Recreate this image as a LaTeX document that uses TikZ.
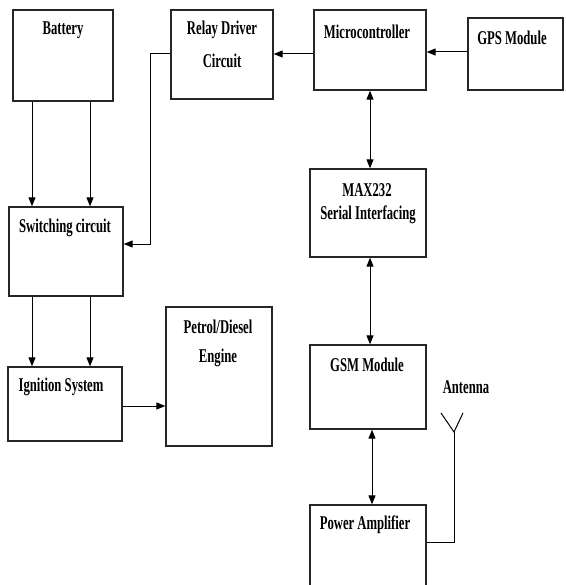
\documentclass[tikz,border=0pt]{standalone}
\usepackage{fontspec}
\setmainfont{Liberation Serif}
\usepackage{graphicx}
\usetikzlibrary{arrows.meta}
\newcommand{\sq}[1]{\scalebox{0.65}[1]{#1}}
\begin{document}
\begin{tikzpicture}[x=1pt,y=-1pt,
  blk/.style={draw=black!85,line width=1.3pt,inner sep=0pt},
  lbl/.style={inner sep=0pt,font=\fontsize{19.5}{22}\selectfont\bfseries},
  arr/.style={line width=1pt,-{Triangle[length=9pt,width=7pt]}},
  darr/.style={line width=1pt,{Triangle[length=9pt,width=7pt]}-{Triangle[length=9pt,width=7pt]}},
  wire/.style={line width=1pt}]
\useasboundingbox (0,0) rectangle (565,585);
% boxes
\node[blk,minimum width=100pt,minimum height=91pt] (battery) at (63,55.5) {};
\node[blk,minimum width=102pt,minimum height=89pt] (relay) at (222,54.5) {};
\node[blk,minimum width=112pt,minimum height=80pt] (micro) at (370,50) {};
\node[blk,minimum width=95pt,minimum height=72pt] (gps) at (515.5,54) {};
\node[blk,minimum width=116pt,minimum height=88pt] (max) at (368,213) {};
\node[blk,minimum width=116pt,minimum height=84pt] (gsm) at (368,387) {};
\node[blk,minimum width=116pt,minimum height=85pt] (pa) at (368,547.5) {};
\node[blk,minimum width=114pt,minimum height=89pt] (sw) at (66,251.5) {};
\node[blk,minimum width=114pt,minimum height=74pt] (ign) at (65,404) {};
\node[blk,minimum width=106pt,minimum height=139pt] (eng) at (219,376.5) {};
% labels
\node[lbl] (tbat) at (63,30) {\sq{Battery}};
\node[lbl] (trel1) at (222,30) {\sq{Relay Driver}};
\node[lbl] (trel2) at (222,61) {\sq{Circuit}};
\node[lbl] (tmic) at (367,32) {\sq{Microcontroller}};
\node[lbl] (tgps) at (512,38) {\sq{GPS Module}};
\node[lbl] (tmax1) at (367,190) {\sq{MAX232}};
\node[lbl] (tmax2) at (368,215) {\sq{Serial Interfacing}};
\node[lbl] (tsw) at (65,228) {\sq{Switching circuit}};
\node[lbl] (tign) at (61,387) {\sq{Ignition System}};
\node[lbl] (teng1) at (218,327) {\sq{Petrol/Diesel}};
\node[lbl] (teng2) at (218,358) {\sq{Engine}};
\node[lbl] (tgsm) at (367,365) {\sq{GSM Module}};
\node[lbl] (tant) at (466,387) {\sq{Antenna}};
\node[lbl] (tpa) at (365,525) {\sq{Power Amplifier}};
% connectors
\draw[arr] (gps.west |- 0,52) -- (micro.east |- 0,52);
\draw[arr] (micro.west |- 0,54) -- (relay.east |- 0,54);
\coordinate (b1) at (150,54);
\coordinate (b2) at (150,244);
\draw[arr] (relay.west |- b1) -- (b1) -- (b2) -- (sw.east |- b2);
\draw[arr] (battery.south -| 32,0) -- (sw.north -| 32,0);
\draw[arr] (battery.south -| 90,0) -- (sw.north -| 90,0);
\draw[arr] (sw.south -| 32,0) -- (ign.north -| 32,0);
\draw[arr] (sw.south -| 90,0) -- (ign.north -| 90,0);
\draw[arr] (ign.east |- 0,406) -- (eng.west |- 0,406);
\draw[darr] (micro.south -| 370,0) -- (max.north -| 370,0);
\draw[darr] (max.south -| 370,0) -- (gsm.north -| 370,0);
\draw[darr] (gsm.south -| 372,0) -- (pa.north -| 372,0);
% antenna
\coordinate (ant) at (454,432);
\coordinate (antl) at (441,413);
\coordinate (antr) at (463,413);
\coordinate (antb) at (454,542);
\draw[wire] (antl) -- (ant) -- (antr);
\draw[wire] (ant) -- (antb) -- (pa.east |- antb);
\end{tikzpicture}
\end{document}
